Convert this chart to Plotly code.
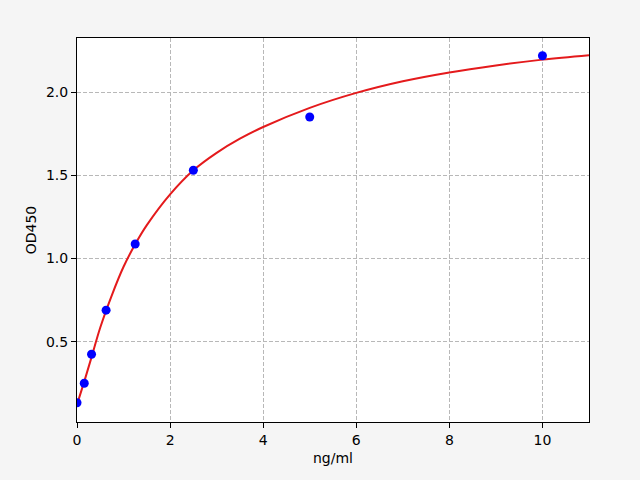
import plotly.graph_objects as go

# standard points
conc = [0, 0.156, 0.3125, 0.625, 1.25, 2.5, 5, 10]
od = [0.133, 0.25, 0.424, 0.689, 1.087, 1.53, 1.85, 2.218]

# fitted curve
curve_x = [0, 0.15, 0.3, 0.5, 0.75, 1, 1.25, 1.5, 2, 2.5, 3, 3.5, 4,
           5, 6, 7, 8, 9, 10, 11]
curve_y = [0.122, 0.255, 0.395, 0.585, 0.78, 0.95, 1.085, 1.2, 1.385, 1.53,
           1.635, 1.72, 1.79, 1.905, 1.995, 2.065, 2.118, 2.16, 2.195, 2.222]

fig = go.Figure()
fig.add_trace(go.Scatter(x=curve_x, y=curve_y, mode="lines",
                         line=dict(color="#e41a1c", width=2, shape="spline", smoothing=1),
                         hoverinfo="skip", showlegend=False))
fig.add_trace(go.Scatter(x=conc, y=od, mode="markers",
                         marker=dict(color="blue", size=9),
                         showlegend=False))

axis_style = dict(
    showline=True, mirror=True, linecolor="black", linewidth=1,
    ticks="outside", ticklen=5, tickcolor="black",
    showgrid=True, gridcolor="#b8b8b8", griddash="4px,2px", gridwidth=1,
    zeroline=False,
    tickfont=dict(family="DejaVu Sans", size=14, color="black"),
)
title_font = dict(family="DejaVu Sans", size=14, color="black")

fig.update_xaxes(range=[0, 11], tickvals=[0, 2, 4, 6, 8, 10],
                 title=dict(text="ng/ml", font=title_font, standoff=6),
                 **axis_style)
fig.update_yaxes(range=[0.017, 2.325], tickvals=[0.5, 1.0, 1.5, 2.0], tickformat=".1f",
                 title=dict(text="OD450", font=title_font, standoff=6),
                 **axis_style)

fig.update_layout(
    width=640, height=480,
    paper_bgcolor="#f5f5f5", plot_bgcolor="white",
    margin=dict(l=77, r=51, t=38, b=58),
    font=dict(family="DejaVu Sans", size=13, color="black"),
)

# page body has an 8px default margin; drop it so the figure sits at 0,0
fig.write_html("out.html", config={"displayModeBar": False},
               post_script="document.body.style.margin='0';")
